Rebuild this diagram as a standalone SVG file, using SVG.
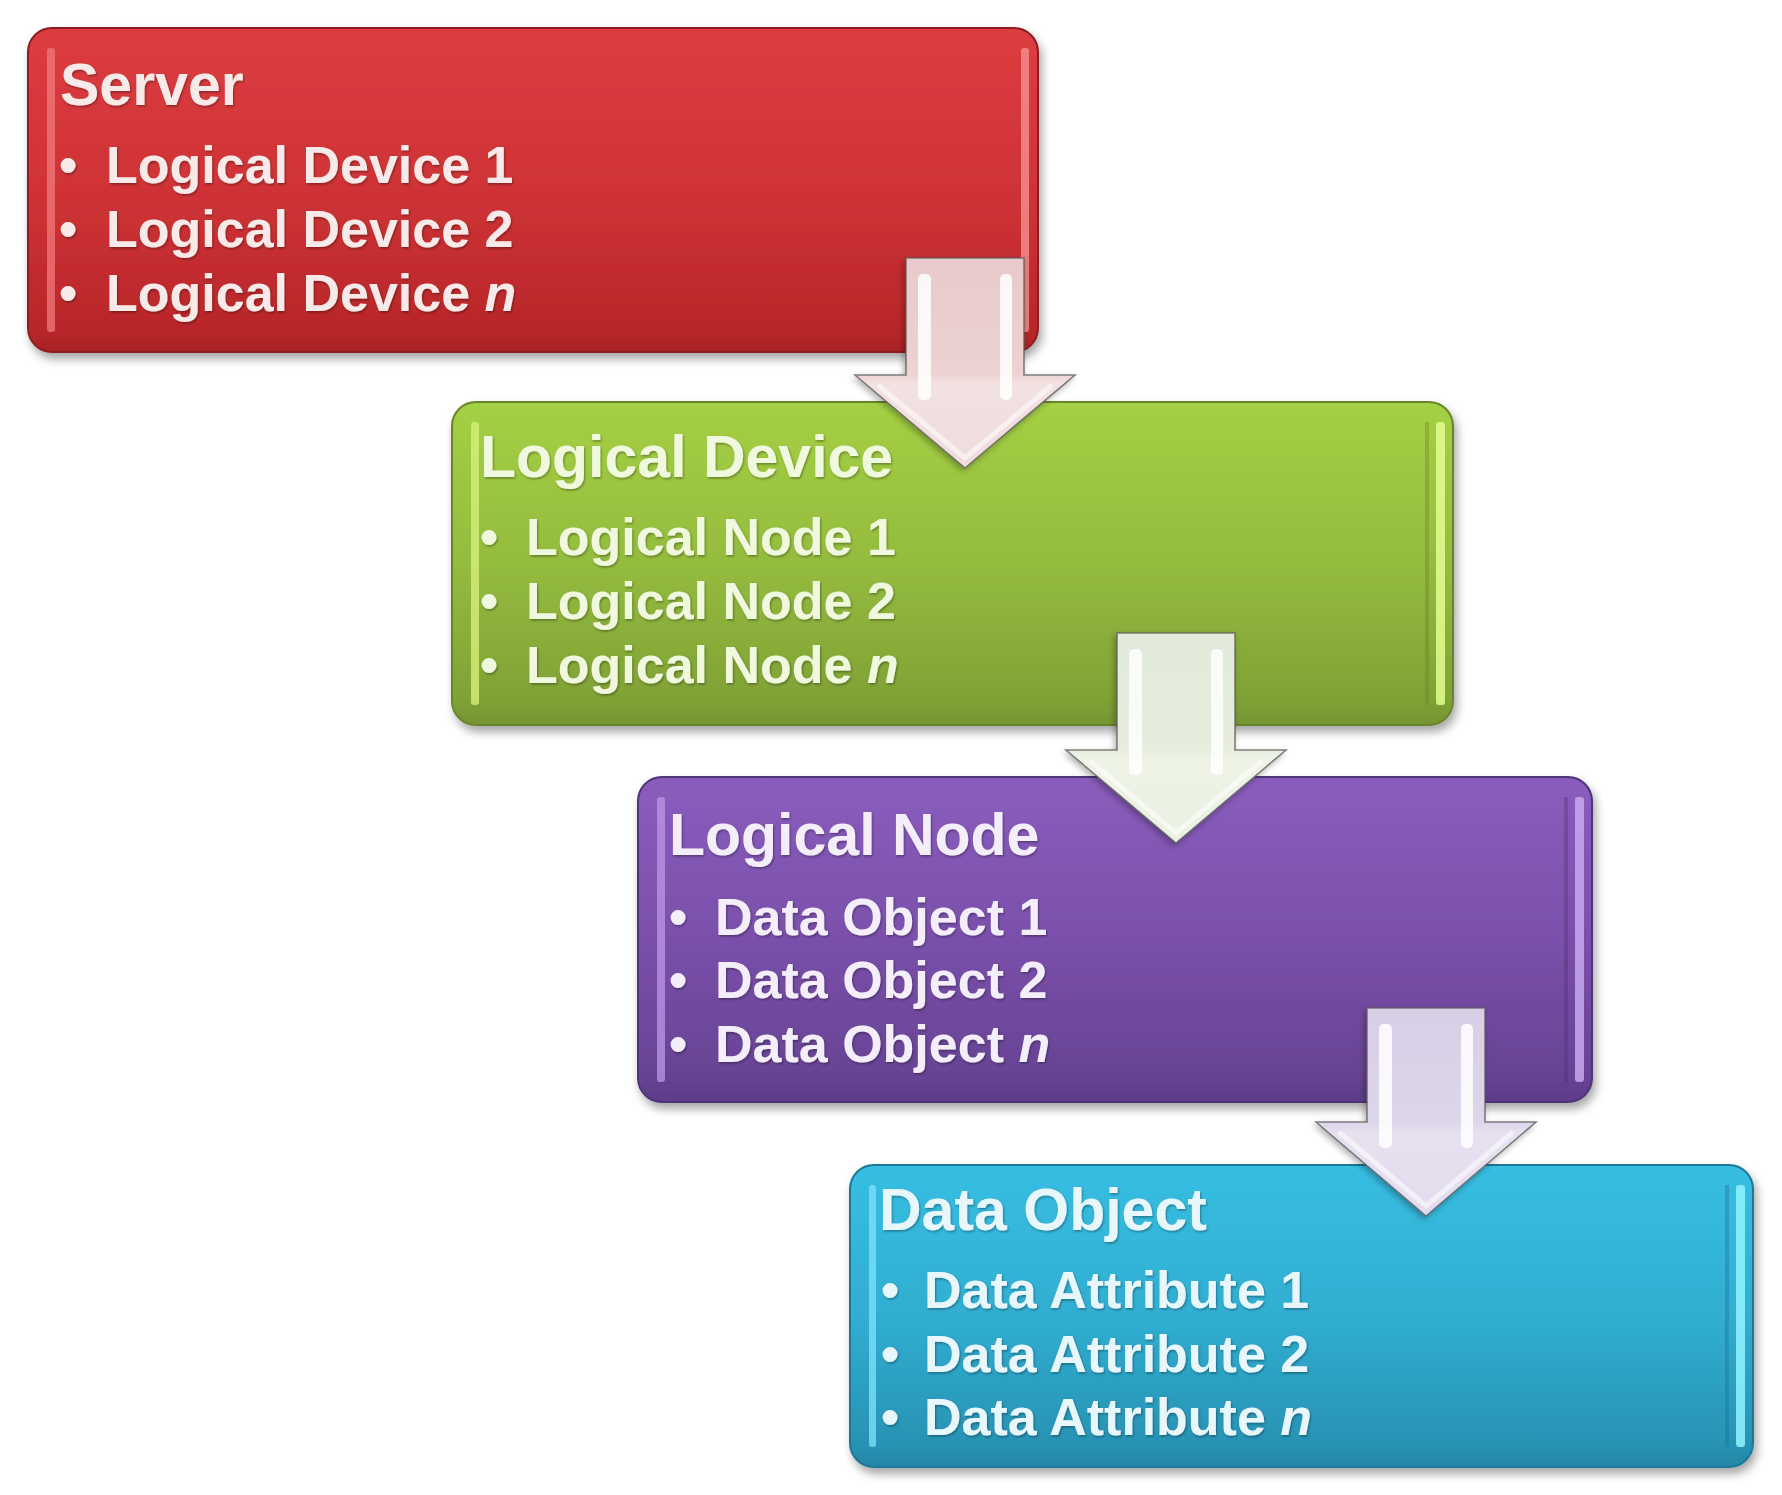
<svg xmlns="http://www.w3.org/2000/svg" width="1782" height="1495" viewBox="0 0 1782 1495">
<defs>
<style>
.t{font-family:"Liberation Sans",Arial,sans-serif;font-weight:bold;}
.title{font-size:59px;}
.item{font-size:52px;}
.bul{font-size:52px;text-anchor:middle;}
.red text{fill:#f9eaea;}
.green text{fill:#f0f8de;}
.purple text{fill:#f4eefa;}
.cyan text{fill:#e8f7fb;}
.box{filter:url(#sh);}
.arrow{stroke:#5a5a5a;stroke-width:1.6;stroke-opacity:0.75;filter:url(#ash);}
.stripe{fill:#ffffff;opacity:0.85;}
</style>
<filter id="sh" x="-5%" y="-8%" width="112%" height="125%">
<feDropShadow dx="3" dy="6" stdDeviation="5" flood-color="#000" flood-opacity="0.35"/>
</filter>
<filter id="ash" x="-10%" y="-10%" width="125%" height="125%">
<feDropShadow dx="-2" dy="3" stdDeviation="3" flood-color="#000" flood-opacity="0.3"/>
</filter>
<filter id="ts" x="-5%" y="-20%" width="110%" height="140%">
<feDropShadow dx="1" dy="1.5" stdDeviation="1.2" flood-color="#000" flood-opacity="0.35"/>
</filter>
<linearGradient id="gRed" x1="0" y1="0" x2="0" y2="1">
<stop offset="0" stop-color="#dc3d40"/><stop offset="0.5" stop-color="#cf3336"/><stop offset="0.92" stop-color="#b9272a"/><stop offset="1" stop-color="#a82326"/>
</linearGradient>
<linearGradient id="gGreen" x1="0" y1="0" x2="0" y2="1">
<stop offset="0" stop-color="#a4d044"/><stop offset="0.5" stop-color="#94bc3e"/><stop offset="0.92" stop-color="#80a236"/><stop offset="1" stop-color="#749432"/>
</linearGradient>
<linearGradient id="gPurple" x1="0" y1="0" x2="0" y2="1">
<stop offset="0" stop-color="#8a5dbd"/><stop offset="0.5" stop-color="#7a50ab"/><stop offset="0.92" stop-color="#674394"/><stop offset="1" stop-color="#5d3c88"/>
</linearGradient>
<linearGradient id="gCyan" x1="0" y1="0" x2="0" y2="1">
<stop offset="0" stop-color="#37bee2"/><stop offset="0.5" stop-color="#30aed2"/><stop offset="0.92" stop-color="#2893b4"/><stop offset="1" stop-color="#2486a6"/>
</linearGradient>
<linearGradient id="aRed" x1="0" y1="0" x2="0" y2="1">
<stop offset="0" stop-color="#e8caca"/><stop offset="0.55" stop-color="#ecd2d2"/><stop offset="0.6" stop-color="#f3e2e2"/><stop offset="1" stop-color="#efdcdc"/>
</linearGradient>
<linearGradient id="aGreen" x1="0" y1="0" x2="0" y2="1">
<stop offset="0" stop-color="#e2eada"/><stop offset="0.55" stop-color="#e6eddd"/><stop offset="0.6" stop-color="#eef3e6"/><stop offset="1" stop-color="#eaf0e2"/>
</linearGradient>
<linearGradient id="aPurple" x1="0" y1="0" x2="0" y2="1">
<stop offset="0" stop-color="#d8cfe6"/><stop offset="0.55" stop-color="#ddd5ea"/><stop offset="0.6" stop-color="#e6e0f0"/><stop offset="1" stop-color="#e2dcee"/>
</linearGradient>
<linearGradient id="fade" x1="0" y1="0" x2="0" y2="1">
<stop offset="0" stop-color="#fff" stop-opacity="0.2"/><stop offset="0.15" stop-color="#fff" stop-opacity="0.9"/><stop offset="0.85" stop-color="#fff" stop-opacity="0.9"/><stop offset="1" stop-color="#fff" stop-opacity="0.2"/>
</linearGradient>
</defs>
<rect width="1782" height="1495" fill="#ffffff"/>

<g id="node-server" class="red">
<rect class="box" x="28" y="28" width="1010" height="324" rx="24" fill="url(#gRed)" stroke="#8f1e21" stroke-width="2"/>
<rect x="47" y="48" width="8" height="284" rx="3" fill="#f27a7a" opacity="0.75"/>
<rect x="1021" y="48" width="8" height="284" rx="3" fill="#f59090" opacity="0.8"/>
<g filter="url(#ts)">
<text class="t title" x="60" y="105">Server</text>
<text class="t bul" x="68" y="183">•</text>
<text class="t item" x="106" y="183">Logical Device 1</text>
<text class="t bul" x="68" y="247">•</text>
<text class="t item" x="106" y="247">Logical Device 2</text>
<text class="t bul" x="68" y="311">•</text>
<text class="t item" x="106" y="311">Logical Device <tspan font-style="italic">n</tspan></text>
</g>
</g>

<g id="node-logical-device" class="green">
<rect class="box" x="452" y="402" width="1001" height="323" rx="24" fill="url(#gGreen)" stroke="#67852a" stroke-width="2"/>
<rect x="471" y="422" width="8" height="283" rx="3" fill="#d4f07a" opacity="0.8"/>
<rect x="1425" y="422" width="4" height="283" fill="#5f7d24" opacity="0.35"/>
<rect x="1436" y="422" width="9" height="283" rx="3" fill="#e0ff90" opacity="0.85"/>
<g filter="url(#ts)">
<text class="t title" x="480" y="477">Logical Device</text>
<text class="t bul" x="489" y="555">•</text>
<text class="t item" x="526" y="555">Logical Node 1</text>
<text class="t bul" x="489" y="619">•</text>
<text class="t item" x="526" y="619">Logical Node 2</text>
<text class="t bul" x="489" y="683">•</text>
<text class="t item" x="526" y="683">Logical Node <tspan font-style="italic">n</tspan></text>
</g>
</g>

<g id="node-logical-node" class="purple">
<rect class="box" x="638" y="777" width="954" height="325" rx="24" fill="url(#gPurple)" stroke="#503478" stroke-width="2"/>
<rect x="657" y="797" width="8" height="285" rx="3" fill="#b894e4" opacity="0.8"/>
<rect x="1564" y="797" width="4" height="285" fill="#4a2f70" opacity="0.35"/>
<rect x="1575" y="797" width="9" height="285" rx="3" fill="#c8a8f0" opacity="0.85"/>
<g filter="url(#ts)">
<text class="t title" x="669" y="855">Logical Node</text>
<text class="t bul" x="678" y="935">•</text>
<text class="t item" x="715" y="935">Data Object 1</text>
<text class="t bul" x="678" y="998">•</text>
<text class="t item" x="715" y="998">Data Object 2</text>
<text class="t bul" x="678" y="1062">•</text>
<text class="t item" x="715" y="1062">Data Object <tspan font-style="italic">n</tspan></text>
</g>
</g>

<g id="node-data-object" class="cyan">
<rect class="box" x="850" y="1165" width="903" height="302" rx="24" fill="url(#gCyan)" stroke="#1f7896" stroke-width="2"/>
<rect x="869" y="1185" width="7" height="262" rx="3" fill="#7ae0f8" opacity="0.8"/>
<rect x="1725" y="1185" width="4" height="262" fill="#1a6a85" opacity="0.35"/>
<rect x="1736" y="1185" width="9" height="262" rx="3" fill="#90f4ff" opacity="0.85"/>
<g filter="url(#ts)">
<text class="t title" x="879" y="1230">Data Object</text>
<text class="t bul" x="890" y="1308">•</text>
<text class="t item" x="924" y="1308">Data Attribute 1</text>
<text class="t bul" x="890" y="1372">•</text>
<text class="t item" x="924" y="1372">Data Attribute 2</text>
<text class="t bul" x="890" y="1435">•</text>
<text class="t item" x="924" y="1435">Data Attribute <tspan font-style="italic">n</tspan></text>
</g>
</g>

<g id="connectors">
<g id="arrow-1">
<path class="arrow" d="M906,258 H1024 V375 H1075 L965,468 L855,375 H906 Z" fill="url(#aRed)"/>
<rect class="stripe" x="918" y="274" width="13" height="126" rx="5" fill="url(#fade)"/>
<rect class="stripe" x="1000" y="274" width="12" height="126" rx="5" fill="url(#fade)"/>
<polyline points="878,385 965,458 1052,385" fill="none" stroke="#ffffff" stroke-width="5" stroke-opacity="0.55"/>
</g>
<g id="arrow-2">
<path class="arrow" d="M1117,633 H1235 V750 H1286 L1176,843 L1066,750 H1117 Z" fill="url(#aGreen)"/>
<rect class="stripe" x="1129" y="649" width="13" height="126" rx="5" fill="url(#fade)"/>
<rect class="stripe" x="1211" y="649" width="12" height="126" rx="5" fill="url(#fade)"/>
<polyline points="1089,760 1176,833 1263,760" fill="none" stroke="#ffffff" stroke-width="5" stroke-opacity="0.55"/>
</g>
<g id="arrow-3">
<path class="arrow" d="M1367,1008 H1485 V1122 H1536 L1426,1216 L1316,1122 H1367 Z" fill="url(#aPurple)"/>
<rect class="stripe" x="1379" y="1024" width="13" height="124" rx="5" fill="url(#fade)"/>
<rect class="stripe" x="1461" y="1024" width="12" height="124" rx="5" fill="url(#fade)"/>
<polyline points="1339,1132 1426,1206 1513,1132" fill="none" stroke="#ffffff" stroke-width="5" stroke-opacity="0.55"/>
</g>
</g>
</svg>
